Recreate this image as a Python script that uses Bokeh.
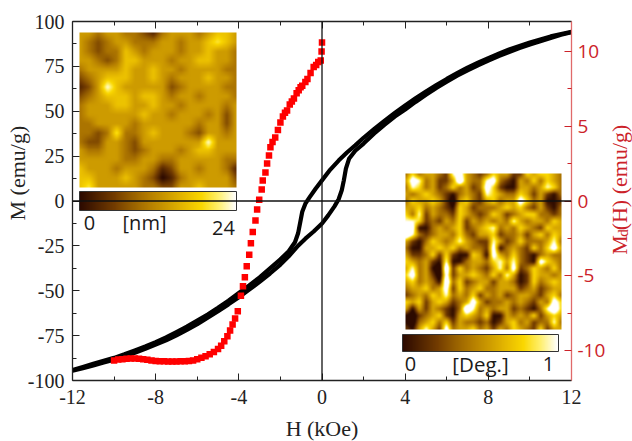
import math
import numpy as np
from bokeh.plotting import figure
from bokeh.layouts import row
from bokeh.models import Range1d, LinearAxis, FixedTicker, Span, Label, LinearColorMapper, Title
from bokeh.core.properties import value
from bokeh.embed import file_html
from bokeh.resources import INLINE

x_ticks = [-12, -8, -4, 0, 4, 8, 12]
x_minor = [-10, -6, -2, 2, 6, 10]
x_labels = ["-12", "-8", "-4", "0", "4", "8", "12"]
y_ticks = [-100, -75, -50, -25, 0, 25, 50, 75, 100]
y_minor = [-87.5, -62.5, -37.5, -12.5, 12.5, 37.5, 62.5, 87.5]
y_labels = ["-100", "-75", "-50", "-25", "0", "25", "50", "75", "100"]
md_ticks = [-10, -5, 0, 5, 10]
md_minor = [-7.5, -2.5, 2.5, 7.5]
md_labels = ["-10", "-5", "0", "5", "10"]

h_up = [12, 11.5, 11, 10.5, 10, 9.5, 9, 8.5, 8, 7.5, 7, 6.5, 6, 5.5, 5, 4.5, 4, 3.5, 3, 2.5, 2, 1.6, 1.2, 0.8, 0.4, 0,
        -0.3, -0.6, -0.8, -0.95, -1.05, -1.15, -1.3, -1.6, -2, -2.5, -3, -3.5, -4, -4.5, -5, -5.5, -6, -6.5, -7, -7.5,
        -8, -8.5, -9, -9.5, -10, -10.5, -11, -11.5, -12]
m_up = [94.2, 93, 91.7, 90, 88.3, 86.4, 84.4, 82, 79.6, 77, 74.3, 71.2, 68, 64.6, 61, 57.2, 53.2, 49, 44.6, 40, 35.2, 31,
        27, 22.5, 17.5, 11.5, 7, 2, -1.5, -6, -12, -18, -23, -28, -32.5, -37.5, -42.5, -47, -51.2, -55.5, -59.5, -63.2,
        -66.6, -70, -73, -76, -78.6, -81, -83.2, -85.4, -87.4, -89, -90.7, -92.5, -94.2]
h_lo = [-12, -11.5, -11, -10.5, -10, -9.5, -9, -8.5, -8, -7.5, -7, -6.5, -6, -5.5, -5, -4.5, -4, -3.5, -3, -2.5, -2, -1.6,
        -1.2, -0.8, -0.4, 0, 0.3, 0.6, 0.8, 0.95, 1.05, 1.15, 1.3, 1.6, 2, 2.5, 3, 3.5, 4, 4.5, 5, 5.5, 6, 6.5, 7, 7.5,
        8, 8.5, 9, 9.5, 10, 10.5, 11, 11.5, 12]
m_lo = [-94.6, -93.2, -91.6, -90, -88.4, -86.6, -84.6, -82.4, -80, -77.6, -74.8, -71.8, -68.6, -65, -61.4, -57.6, -53.6,
        -49.4, -45, -40.4, -35.4, -30.8, -25.5, -21, -17, -12.5, -8, -3, 1, 6, 11.5, 18, 23.5, 28, 32, 37.5, 42.4, 47, 51,
        55.2, 59.2, 63, 66.4, 69.8, 72.8, 75.6, 78.2, 80.8, 83, 85.2, 87.2, 89, 90.8, 92.6, 94]

h_md = [-10, -9.8, -9.6, -9.4, -9.2, -9, -8.8, -8.6, -8.4, -8.2, -8, -7.8, -7.6, -7.4, -7.2, -7, -6.8, -6.6, -6.4, -6.2,
        -6, -5.8, -5.6, -5.4, -5.2, -5, -4.85, -4.7, -4.55, -4.42, -4.3, -4.18, -4.05, -3.9, -3.8, -3.71, -3.62, -3.5,
        -3.42, -3.33, -3.2, -3.12, -3.02, -2.9, -2.85, -2.72, -2.64, -2.55, -2.48, -2.38, -2.25, -2.12, -2, -1.88, -1.78,
        -1.68, -1.55, -1.45, -1.35, -1.22, -1.12, -1.03, -0.95, -0.8, -0.7, -0.55, -0.4, -0.28, -0.18, -0.06, -0.02, 0]
md_val = [-10.66, -10.6, -10.58, -10.55, -10.53, -10.53, -10.55, -10.58, -10.62, -10.66, -10.7, -10.72, -10.72, -10.73,
          -10.73, -10.73, -10.72, -10.72, -10.7, -10.66, -10.58, -10.48, -10.38, -10.25, -10.1, -9.9, -9.68, -9.38, -9.05,
          -8.65, -8.25, -7.85, -7.37, -6.33, -5.7, -5.1, -4.36, -3.6, -2.82, -2.08, -1.3, -0.57, 0.08, 0.77, 1.37, 1.9,
          2.5, 3.04, 3.6, 3.95, 4.25, 4.75, 5.25, 5.65, 5.9, 6.05, 6.45, 6.65, 6.85, 7.2, 7.4, 7.6, 7.7, 7.95, 8.15, 8.55,
          8.95, 9.1, 9.3, 9.4, 10.0, 10.6]

# Hand-read brightness grids (0 dark brown ... 9 white), top row first
afm_rows = [
    "554554432455545665", "543455444554556765", "543446545554556554", "554346655545566554",
    "455556556554555544", "345666556545556554", "235865555534555544", "345666566545545554",
    "455566556554555545", "455555565545554535", "445555455555545535", "443474456555435545",
    "433554355555558555", "544554345554566555", "555554455445555544", "655545554235545542",
    "665556543124555553", "675555544335565554",
]
mfm_rows = [
    "464554378543465533656654", "587453359544784325464654", "476453464534863225545764",
    "545654324543765446535324", "465565315643564558645223", "556454326534445656435324",
    "647354436543465345664434", "776343546354545475455465", "982245456345674546543655",
    "974345546435563445356465", "532465457543375346444574", "422556564544382454364685",
    "533463632265285464324544", "654532722455467574328654", "574521936454357483465464",
    "684531835565464752365545", "564542946345535542364565", "455645836456445553453455",
    "345465745463545345543564", "656356534585344545435486", "525354324974545534324796",
    "213456325654622545463565", "214564635443423564534474", "325753845564535465436355",
]
anchors = [(45, 10, 0), (80, 35, 0), (115, 60, 0), (150, 95, 0), (180, 125, 0), (205, 155, 0), (230, 185, 0),
           (250, 215, 0), (255, 240, 110), (255, 255, 255)]
afm_cbar = ["0", "[nm]", "24"]
mfm_cbar = ["0", "[Deg.]", "1"]
right_title = ["M", "d", "(H) (emu/g)"]


def px(v):
    return -12 + (v - 72) * 24 / 499


def py(v):
    return 100 - (v - 21) * 200 / 359


def blur1(a):
    b = np.pad(a, 1, mode="edge")
    b = (b[:-2, 1:-1] + 2 * b[1:-1, 1:-1] + b[2:, 1:-1]) / 4
    b = np.pad(b, 1, mode="edge")
    return (b[1:-1, :-2] + 2 * b[1:-1, 1:-1] + b[1:-1, 2:]) / 4


def smooth(rows, n, gain=1.0, mid=4.5, passes=3):
    a = np.array([[int(c) for c in r] for r in rows], dtype=float)
    s = np.linspace(0, a.shape[0] - 1, n)
    idx = np.arange(a.shape[0])
    a = np.array([np.interp(s, idx, row_) for row_ in a])
    a = np.array([np.interp(s, idx, col) for col in a.T]).T
    for _ in range(passes):
        a = blur1(a)
    return np.clip((a[::-1] - mid) * gain + mid, 0, 9)


palette = []
for i in range(256):
    t = i / 255 * 9
    k = min(int(t), 8)
    f = t - k
    c = [round(anchors[k][j] * (1 - f) + anchors[k + 1][j] * f) for j in range(3)]
    palette.append("#%02x%02x%02x" % tuple(c))
mapper = LinearColorMapper(palette=palette, low=0, high=9)

p = figure(frame_width=499, frame_height=359, width=608, height=441, output_backend="svg", toolbar_location=None,
           x_range=Range1d(-12, 12), y_range=Range1d(-100, 100), min_border_left=72, min_border_top=21,
           min_border_right=37, min_border_bottom=61, background_fill_color="white", outline_line_color=None)
p.grid.visible = False
p.extra_y_ranges = {"md": Range1d(-12, 12)}

serif = "Liberation Serif"
sans = "Open Sans"
RED = "#cc2229"
DARK = "#222222"


def style(ax, color, font, size, standoff=8):
    ax.axis_line_color = color
    ax.axis_line_width = 1.3
    ax.major_tick_line_color = color
    ax.minor_tick_line_color = color
    ax.major_tick_in = 7
    ax.major_tick_out = 0
    ax.minor_tick_in = 4
    ax.minor_tick_out = 0
    ax.major_label_text_color = color
    ax.major_label_text_font = font
    ax.major_label_text_font_size = size
    ax.major_label_standoff = standoff


xa = p.xaxis[0]
xa.ticker = FixedTicker(ticks=x_ticks, minor_ticks=x_minor)
xa.major_label_overrides = dict(zip(x_ticks, x_labels))
style(xa, DARK, serif, "20px", 9)
xa.axis_label = "H (kOe)"
xa.axis_label_text_font = serif
xa.axis_label_text_font_style = "normal"
xa.axis_label_text_font_size = "22px"
xa.axis_label_text_color = DARK
xa.axis_label_standoff = 9

ya = p.yaxis[0]
ya.ticker = FixedTicker(ticks=y_ticks, minor_ticks=y_minor)
ya.major_label_overrides = dict(zip(y_ticks, y_labels))
style(ya, DARK, serif, "20px", 8)
p.add_layout(Title(text="M (emu/g)", align="left", offset=160, standoff=-10, text_font=serif, text_font_size="22px",
                   text_font_style="normal", text_color=DARK), "left")

top = LinearAxis(ticker=FixedTicker(ticks=x_ticks, minor_ticks=x_minor),
                 major_label_overrides={t: "" for t in x_ticks})
style(top, DARK, serif, "1px", 0)
p.add_layout(top, "above")

ra = LinearAxis(y_range_name="md", ticker=FixedTicker(ticks=md_ticks, minor_ticks=md_minor),
                major_label_overrides=dict(zip(md_ticks, md_labels)))
style(ra, RED, sans, "19px", 6)
ra.axis_line_color = "#e06a6a"
p.add_layout(ra, "right")

p.add_layout(Span(location=0, dimension="height", line_color="#111111", line_width=1.3))
p.add_layout(Span(location=0, dimension="width", line_color="#111111", line_width=1.3))

p.line(h_up, m_up, line_color="black", line_width=4.2, line_join="round")
p.line(h_lo, m_lo, line_color="black", line_width=4.2, line_join="round")
p.scatter(h_md, md_val, y_range_name="md", marker="square", size=6.5, fill_color="#ff0000", line_color=None)

# inset images
p.image(image=[smooth(afm_rows, 157, 1.3, 5, 1)], x=px(79), y=py(187), dw=px(236) - px(79), dh=py(32) - py(187),
        color_mapper=mapper)
p.image(image=[smooth(mfm_rows, 156, 1.75, 4.6, 1)], x=px(405), y=py(329), dw=px(561) - px(405), dh=py(173) - py(329),
        color_mapper=mapper)
grad = np.linspace(0, 9, 156).reshape(1, -1)
p.image(image=[grad], x=px(79), y=py(210), dw=px(236) - px(79), dh=py(191) - py(210), color_mapper=mapper)
p.image(image=[grad], x=px(402), y=py(351), dw=px(558) - px(402), dh=py(334) - py(351), color_mapper=mapper)
p.quad(left=[px(79), px(402)], right=[px(236), px(558)], bottom=[py(210), py(351)], top=[py(191), py(334)],
       fill_color=None, line_color="#333333", line_width=1)


def txt(s, x, y, size="20px"):
    p.add_layout(Label(x=px(x), y=py(y), text=s, text_font=sans, text_font_size=size, text_color="#1a1a1a",
                       text_align="center", text_baseline="middle"))


txt(afm_cbar[0], 89, 222)
txt(afm_cbar[1], 144, 222)
txt(afm_cbar[2], 223, 227)
txt(mfm_cbar[0], 410, 363)
txt(mfm_cbar[1], 480, 363, "20.5px")
txt(mfm_cbar[2], 548, 363)

# strip at the right holding the rotated Md(H) title
s = figure(width=24, height=441, output_backend="svg", toolbar_location=None, x_range=Range1d(608, 632),
           y_range=Range1d(441, 0), min_border=0, outline_line_color=None, background_fill_color="white")
s.axis.visible = False
s.grid.visible = False
for t, x, y, size in zip(right_title, [619, 622, 619], [288, 266, 258], ["22px", "15px", "22px"]):
    s.text(x=[x], y=[y], text=[t], text_font=value(serif), text_font_size=value(size), text_color=RED,
           text_align="left", text_baseline="alphabetic", angle=math.pi / 2)

layout = row(p, s, spacing=0)
open("out.html", "w").write(file_html(layout, INLINE))
